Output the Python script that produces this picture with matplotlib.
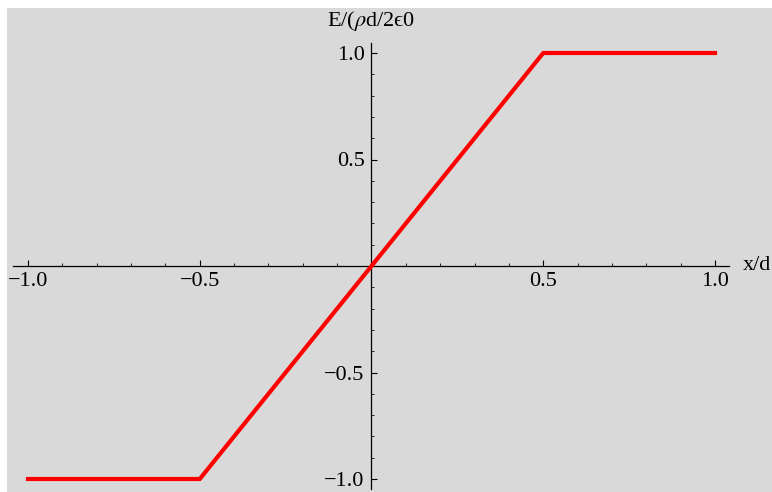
import matplotlib
matplotlib.use("Agg")
import matplotlib.pyplot as plt
import numpy as np

# Data
x_vals = [-1.0, -0.5, 0.5, 1.0]
e_vals = [-1.0, -1.0, 1.0, 1.0]
x_major = [-1.0, -0.5, 0.5, 1.0]
y_major = [-1.0, -0.5, 0.5, 1.0]
x_major_labels = ["\u22121.0", "\u22120.5", "0.5", "1.0"]
y_major_labels = ["\u22121.0", "\u22120.5", "0.5", "1.0"]
minor_vals = [-0.9, -0.8, -0.7, -0.6, -0.4, -0.3, -0.2, -0.1,
              0.1, 0.2, 0.3, 0.4, 0.6, 0.7, 0.8, 0.9]
x_label = "x/d"
y_label = "E/($\\rho$d/2\u03f50"

plt.rcParams['font.family'] = ['Liberation Serif', 'DejaVu Serif']
plt.rcParams['mathtext.fontset'] = 'stix'

W, H = 772, 492
FS = 16
fig = plt.figure(figsize=(W / 100, H / 100), dpi=100, facecolor='white')
# axes occupies gray region: left px 7, top px 8
ax = fig.add_axes([7 / W, 0, (W - 7) / W, (H - 8) / H])
ax.set_facecolor('#d9d9d9')

# pixel mapping: x px = 371.5 + 343.5*x ; y px = 266 - 213*y
x0, sx = 371.5, 343.5
y0, sy = 266.0, 213.0
ax.set_xlim((7 - x0) / sx, (W - x0) / sx)
ax.set_ylim((y0 - H) / sy, (y0 - 8) / sy)

ax.plot(x_vals, e_vals, color='#ff0000', lw=3.0, solid_joinstyle='miter', zorder=3)

for s in ['top', 'right']:
    ax.spines[s].set_visible(False)
ax.spines['bottom'].set_position(('data', 0))
ax.spines['left'].set_position(('data', 0))
ax.spines['bottom'].set_bounds(-1.044, 1.041)
ax.spines['left'].set_bounds(-1.047, 1.047)
for s in ['bottom', 'left']:
    ax.spines[s].set_linewidth(0.9)
    ax.spines[s].set_color('black')

ax.set_xticks(x_major)
ax.set_xticklabels(x_major_labels)
ax.set_yticks(y_major)
ax.set_yticklabels(y_major_labels)
ax.set_xticks(minor_vals, minor=True)
ax.set_yticks(minor_vals, minor=True)
ax.tick_params(which='major', direction='in', length=4.5, width=0.8, labelsize=FS)
ax.tick_params(which='minor', direction='in', length=2.5, width=0.6)
ax.tick_params(axis='x', which='major', pad=4)
ax.tick_params(axis='y', which='major', pad=5)

ax.text((743 - 7) / (W - 7), 1 - (265 - 8) / (H - 8), x_label, transform=ax.transAxes,
        ha='left', va='center', fontsize=FS, clip_on=False)
ax.text((327 - 7) / (W - 7), 1 - (21 - 8) / (H - 8), y_label, transform=ax.transAxes,
        ha='left', va='center', fontsize=FS, clip_on=False)

fig.savefig("out.png", dpi=100, facecolor='white')
